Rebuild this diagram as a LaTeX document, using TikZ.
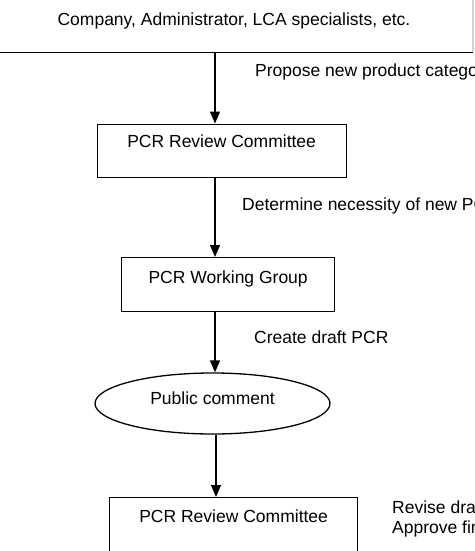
\documentclass[tikz,border=0pt]{standalone}
\usepackage{fontspec}
\setmainfont{Liberation Sans}
\usetikzlibrary{arrows.meta,shapes.geometric}
\begin{document}
\begin{tikzpicture}[x=1pt,y=-1pt,
  every node/.style={font=\fontsize{17.5}{20}\selectfont},
  boxnode/.style={draw,line width=1.3pt,inner sep=0pt,anchor=north west},
  ellnode/.style={draw,ellipse,line width=1.3pt,inner sep=0pt,minimum width=235pt,minimum height=61pt,text height=10pt,text depth=9pt},
  lbl/.style={inner sep=0pt,anchor=base west},
  arr/.style={line width=1.3pt,-{Triangle[length=12pt,width=10pt]}}]
\useasboundingbox (0,0) rectangle (474,551);
\fill[white] (0,0) rectangle (474,551);
% top box
\node[inner sep=0pt,anchor=north west,minimum width=477.5pt,text height=35pt,text depth=27pt] (top) at (-5,-10) {Company, Administrator, LCA specialists, etc.};
\draw[line width=1.3pt] (top.south west) -- (top.south east);
\draw[gray!35,line width=1.3pt] (top.south east) -- (top.north east);
% boxes
\node[boxnode,minimum width=249pt,text height=23.5pt,text depth=30pt] (rc1) at (96.5,123.5) {PCR Review Committee};
\node[boxnode,minimum width=213pt,text height=26pt,text depth=27.5pt] (wg) at (121,257) {PCR Working Group};
\node[ellnode] (pc) at (212.5,403.5) {Public comment};
\node[boxnode,minimum width=248pt,text height=25pt,text depth=40pt] (rc2) at (109,497) {PCR Review Committee};
% arrow columns
\coordinate (ax) at (215,0);
\coordinate (bx) at (216,0);
\draw[arr] (top.south -| ax) -- (rc1.north -| ax);
\draw[arr] (rc1.south -| ax) -- (wg.north -| ax);
\draw[arr] (wg.south -| ax) -- (pc.north -| ax);
\draw[arr] (pc.south -| bx) -- (rc2.north -| bx);
% labels
\node[lbl] (l1) at (255,76) {Propose new product category};
\node[lbl] (l2) at (242,210) {Determine necessity of new PCR};
\node[lbl] (l3) at (254,343) {Create draft PCR};
\node[lbl] (l4) at (392,513) {\vtop{\baselineskip=20pt\hbox{Revise draft PCR}\hbox{Approve final PCR}}};
\end{tikzpicture}
\end{document}
